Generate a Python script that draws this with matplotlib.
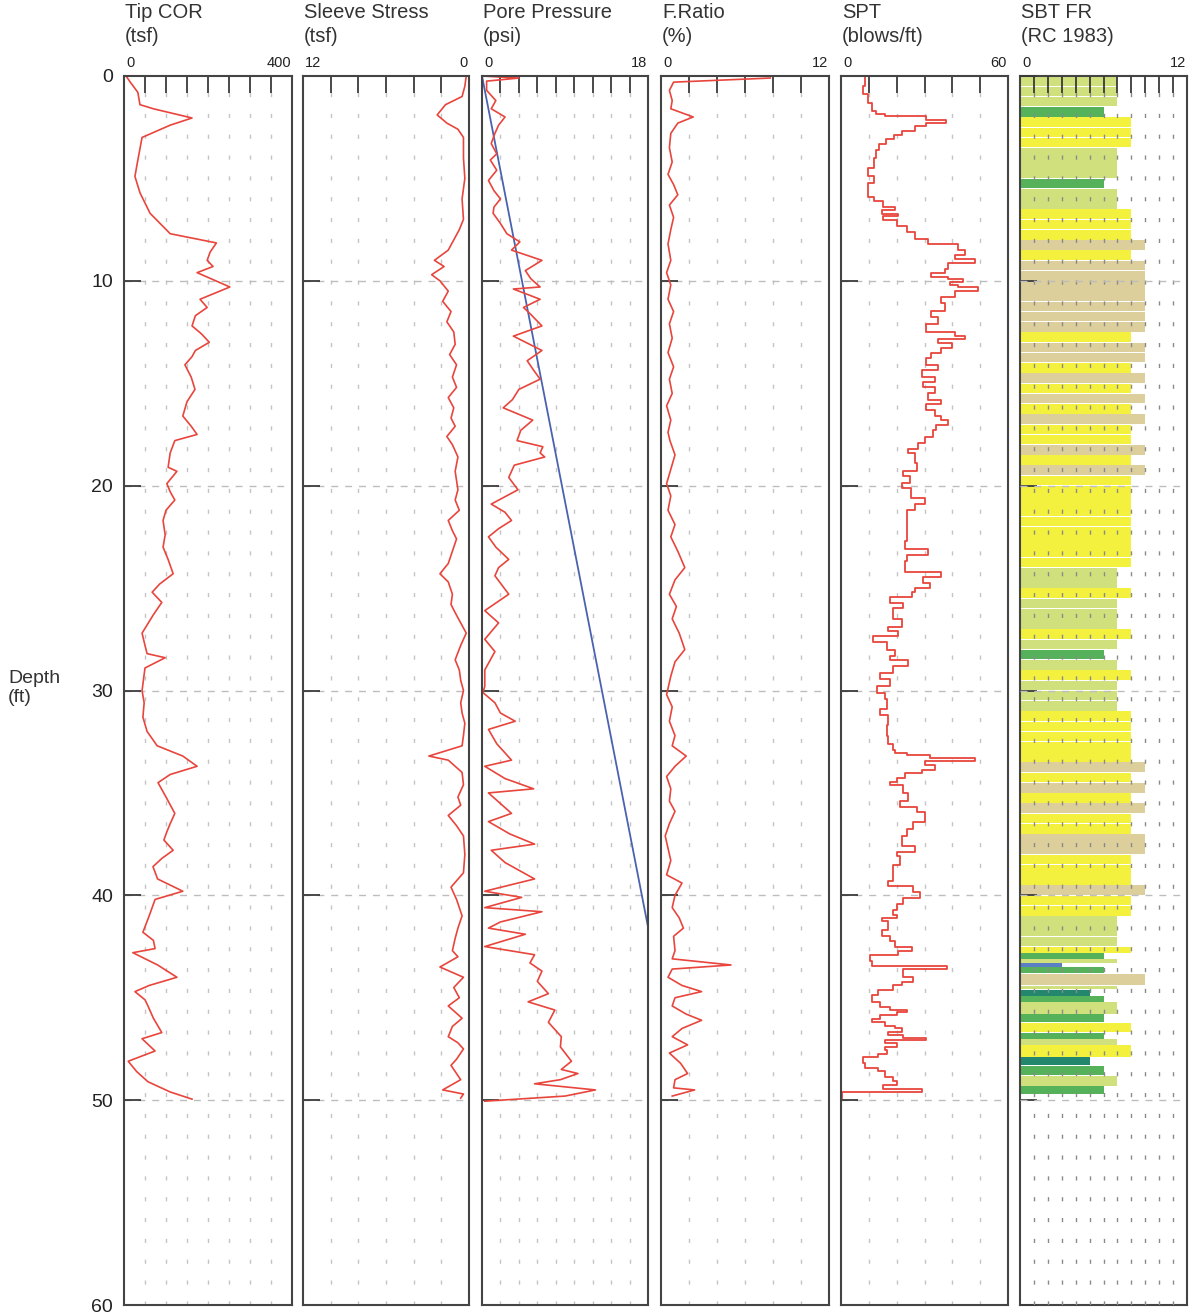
import matplotlib.pyplot as plt
import numpy as np

plt.rcParams['font.family'] = ['Liberation Sans', 'DejaVu Sans']

RED = '#e8453c'
BLUE = '#4a62b0'
DARK = '#3a3a3a'

# ---- data (depth in ft) ----
tip_depth = [0.0, 0.3, 0.8, 1.4, 1.6, 2.05, 2.4, 3.0, 4.1, 4.9, 5.7, 6.7, 7.7, 8.15, 8.6, 9.0, 9.3, 9.6,
             10.3, 10.9, 11.3, 11.7, 12.2, 12.6, 13.0, 13.4, 13.7, 14.1, 14.7, 15.3, 15.9, 16.6, 17.1,
             17.5, 17.8, 18.4, 19.1, 19.3, 19.9, 20.3, 20.7, 21.2, 21.7, 22.4, 23.0, 23.6, 24.3, 24.8,
             25.2, 25.7, 26.3, 27.2, 27.8, 28.2, 28.4, 28.9, 30.0, 30.6, 31.3, 32.0, 32.7, 33.2, 33.7,
             34.1, 34.5, 35.2, 36.0, 36.5, 36.9, 37.3, 37.8, 38.2, 38.6, 39.2, 39.8, 40.2, 41.0, 41.8,
             42.2, 42.6, 42.8, 43.4, 44.0, 44.4, 44.7, 45.1, 45.4, 46.0, 46.7, 47.0, 47.6, 48.1, 48.6,
             49.1, 49.6, 49.95]
tip_val = [5, 15, 33, 38, 70, 162, 110, 43, 33, 26, 38, 62, 110, 220, 205, 198, 212, 174,
           252, 181, 198, 170, 162, 185, 203, 170, 162, 145, 160, 169, 150, 140, 160,
           174, 121, 110, 105, 126, 102, 110, 121, 100, 93, 98, 93, 105, 117, 85,
           67, 90, 70, 43, 50, 55, 98, 50, 43, 48, 45, 55, 79, 140, 174,
           110, 81, 100, 121, 110, 102, 95, 117, 90, 69, 80, 140, 74, 60, 45,
           70, 74, 21, 80, 126, 60, 26, 50, 57, 70, 90, 43, 74, 10, 30,
           57, 110, 162]

sleeve_depth = [0.0, 0.5, 1.0, 1.4, 1.9, 2.3, 2.6, 3.0, 4.0, 5.0, 6.0, 7.0, 7.5, 8.0, 8.5, 9.0, 9.3, 9.7,
                10.0, 10.5, 11.0, 11.5, 12.0, 12.5, 13.1, 13.6, 14.1, 14.7, 15.2, 15.7, 16.2, 16.7, 17.1,
                17.6, 18.0, 18.6, 19.3, 20.2, 20.7, 21.2, 21.7, 22.2, 22.6, 23.2, 23.8, 24.3, 24.7, 25.3,
                25.8, 26.2, 26.7, 27.2, 27.8, 28.5, 29.0, 29.5, 30.0, 30.6, 31.1, 31.6, 32.2, 32.7, 33.2,
                33.4, 34.0, 34.6, 35.2, 35.6, 36.1, 36.6, 37.1, 38.0, 38.9, 39.6, 40.2, 40.6, 41.0, 41.6,
                42.1, 42.7, 43.0, 43.5, 44.0, 44.5, 45.0, 45.4, 46.0, 46.4, 46.9, 47.2, 47.5, 48.0, 48.3,
                48.7, 49.0, 49.5, 49.7, 49.9]
sleeve_val = [0.2, 0.3, 0.5, 1.7, 2.3, 1.6, 0.8, 0.4, 0.4, 0.3, 0.5, 0.4, 0.7, 1.1, 1.5, 2.5, 1.8, 2.7,
              2.1, 1.5, 1.9, 1.3, 1.6, 1.1, 1.0, 1.4, 0.9, 1.2, 0.9, 1.5, 1.1, 1.3, 1.0,
              1.6, 1.2, 0.8, 1.0, 0.8, 1.0, 0.7, 1.5, 1.2, 0.9, 1.2, 1.5, 2.1, 1.5, 1.2,
              1.3, 1.0, 0.6, 0.2, 0.6, 1.0, 0.7, 0.6, 0.4, 0.6, 0.5, 0.3, 0.4, 0.5, 2.9,
              1.5, 0.5, 0.4, 0.8, 0.6, 1.5, 0.9, 0.4, 0.3, 0.4, 1.3, 0.9, 0.7, 0.5, 0.8,
              1.0, 1.2, 0.8, 2.1, 0.4, 1.1, 0.7, 1.5, 0.5, 1.2, 1.5, 0.8, 0.4, 0.9, 1.3,
              0.9, 0.6, 1.9, 0.4, 0.6]

pore_depth = [0.0, 0.1, 0.25, 0.7, 1.2, 1.6, 2.0, 2.4, 2.8, 3.3, 3.8, 4.1, 4.6, 5.1, 5.6, 6.0, 6.4, 6.7,
              7.2, 7.7, 8.1, 8.5, 9.0, 9.5, 9.9, 10.3, 10.4, 10.9, 11.3, 11.6, 12.2, 12.7, 13.4, 13.9,
              14.3, 14.8, 15.3, 15.8, 16.2, 16.8, 17.3, 17.8, 18.1, 18.4, 18.6, 19.0, 19.6, 20.2, 20.9,
              21.3, 21.7, 22.1, 22.5, 23.0, 23.6, 24.0, 24.4, 25.3, 26.1, 26.7, 27.5, 28.1, 29.0, 29.8,
              30.1, 30.6, 31.1, 31.5, 31.9, 32.6, 33.4, 33.7, 34.3, 34.8, 35.0, 35.6, 36.0, 36.4, 37.0,
              37.5, 37.8, 38.4, 39.2, 39.8, 40.1, 40.6, 40.8, 41.3, 41.6, 41.9, 42.5, 42.9, 43.3, 43.7,
              44.2, 44.8, 45.2, 45.6, 46.2, 46.9, 47.4, 48.1, 48.5, 48.7, 49.0, 49.2, 49.5, 49.8, 50.05]
pore_val = [0.0, 4.0, 0.5, 0.5, 1.5, 1.0, 2.5, 1.8, 1.4, 1.0, 1.6, 0.9, 1.6, 0.7, 1.3, 2.0, 1.3, 1.2,
            2.0, 2.7, 4.1, 3.2, 6.5, 4.7, 5.3, 6.3, 3.4, 6.3, 4.5, 5.2, 6.5, 3.4, 6.5, 4.9,
            5.5, 6.3, 4.0, 3.3, 2.3, 5.5, 4.2, 3.8, 6.6, 6.3, 6.8, 3.5, 2.9, 3.9, 1.0,
            2.5, 3.2, 1.8, 0.7, 1.5, 2.9, 1.8, 1.4, 2.9, 0.3, 1.8, 0.3, 1.4, 0.3, 0.3,
            0.1, 1.4, 2.0, 3.6, 0.7, 1.6, 3.2, 0.3, 2.5, 5.6, 0.7, 2.2, 3.2, 0.7, 3.0,
            5.7, 1.0, 2.5, 5.7, 0.3, 4.3, 0.3, 6.5, 2.0, 0.7, 4.7, 0.3, 5.7, 5.2, 6.5,
            6.0, 7.2, 5.0, 7.9, 7.2, 8.6, 8.5, 9.7, 8.6, 10.4, 8.5, 5.7, 12.3, 9.0, 0.3]

# hydrostatic line (psi), from surface
hydro_depth = [0.0, 60.0]
hydro_val = [0.0, 26.0]

fr_depth = [0.1, 0.3, 0.7, 1.2, 1.6, 2.0, 2.3, 2.8, 3.5, 4.2, 4.8, 5.3, 5.8, 6.3, 6.9, 7.5, 8.2, 9.0, 9.6,
            10.2, 10.9, 11.5, 12.1, 12.8, 13.5, 14.2, 14.8, 15.5, 16.1, 16.8, 17.4, 17.8, 18.5, 19.2,
            19.9, 20.5, 21.2, 21.9, 22.5, 23.2, 24.0, 24.6, 25.3, 25.9, 26.5, 27.2, 28.0, 28.6, 29.3,
            30.2, 30.8, 31.5, 32.2, 32.7, 33.2, 33.7, 34.2, 34.8, 35.4, 35.9, 36.5, 37.1, 37.7, 38.3,
            39.0, 39.4, 40.0, 40.6, 41.1, 41.6, 42.0, 42.7, 43.1, 43.4, 43.6, 44.0, 44.4, 44.7, 45.0,
            45.4, 45.8, 46.1, 46.5, 46.9, 47.3, 47.7, 48.2, 48.7, 49.0, 49.4, 49.5, 49.8]
fr_val = [7.8, 0.9, 0.6, 0.8, 0.7, 2.3, 1.2, 0.7, 0.6, 0.8, 0.5, 0.9, 1.2, 0.6, 0.9, 0.7, 0.5, 0.7, 0.4,
          0.7, 0.5, 0.9, 0.6, 0.8, 0.5, 0.9, 0.6, 0.8, 0.4, 0.7, 0.5, 0.64, 1.0, 0.7,
          0.4, 0.7, 0.5, 1.0, 0.7, 1.2, 1.7, 1.0, 0.6, 1.1, 0.8, 1.3, 1.7, 1.0, 0.7,
          0.4, 0.8, 0.6, 1.0, 0.8, 1.8, 1.0, 0.4, 0.7, 0.6, 1.0, 0.6, 0.3, 0.5, 0.7,
          0.4, 1.5, 1.0, 0.8, 1.3, 1.6, 0.9, 1.0, 0.8, 5.0, 0.8, 0.5, 1.5, 2.9, 1.0,
          0.8, 1.8, 2.9, 1.5, 0.8, 1.9, 0.6, 1.4, 1.9, 1.0, 0.9, 2.4, 0.8]

# SPT: value for each interval starting at spt_top
spt_top = [0.0, 0.5, 0.9, 1.3, 1.7, 1.85, 1.95, 2.15, 2.3, 2.45, 2.7, 2.9, 3.1, 3.3, 3.6, 4.0, 4.5, 4.9,
           5.2, 5.9, 6.1, 6.4, 6.55, 6.75, 6.85, 7.05, 7.3, 7.6, 7.95, 8.2, 8.5, 8.75, 8.95, 9.15, 9.4,
           9.6, 9.8, 9.9, 10.05, 10.2, 10.3, 10.5, 10.8, 11.1, 11.45, 11.75, 12.1, 12.5, 12.7, 12.85,
           13.05, 13.3, 13.5, 13.75, 14.1, 14.35, 14.7, 14.95, 15.2, 15.5, 15.8, 16.0, 16.3, 16.6,
           16.8, 17.05, 17.3, 17.6, 17.9, 18.2, 18.4, 18.9, 19.3, 19.55, 19.85, 20.1, 20.6, 20.9,
           21.2, 22.0, 22.7, 23.1, 23.4, 23.7, 24.2, 24.45, 24.75, 25.0, 25.2, 25.45, 25.75, 25.95,
           26.5, 26.9, 27.1, 27.35, 27.65, 28.0, 28.3, 28.5, 28.8, 29.15, 29.45, 29.8, 30.1, 30.4,
           30.9, 31.2, 31.7, 32.2, 32.6, 32.9, 33.05, 33.15, 33.3, 33.45, 33.65, 33.9, 34.05, 34.25,
           34.45, 34.6, 35.0, 35.4, 35.7, 35.95, 36.4, 36.75, 37.1, 37.6, 37.9, 38.1, 38.5, 39.3,
           39.55, 39.85, 40.15, 40.4, 40.7, 40.95, 41.1, 41.25, 41.7, 42.0, 42.25, 42.5, 42.7, 42.9,
           43.2, 43.45, 43.6, 44.0, 44.25, 44.4, 44.6, 44.85, 45.2, 45.45, 45.6, 45.7, 45.85, 46.05,
           46.2, 46.4, 46.5, 46.65, 46.8, 46.95, 47.05, 47.2, 47.4, 47.55, 47.75, 47.9, 48.2, 48.45,
           48.6, 48.85, 49.05, 49.25, 49.45, 49.6]
spt_val = [8.6, 8.0, 9.8, 11, 12.4, 15.9, 30.6, 37.8, 30.6, 26.6, 22, 19, 16, 13.6, 12.4, 12, 9.8, 12,
           9.8, 12, 15, 19.5, 14.6, 20.6, 15, 20, 23.6, 26.6, 31.4, 42, 44.6, 40.8, 48, 38.5, 37.3,
           32.5, 38.5, 44, 39, 42, 49.3, 40.8, 36, 37.3, 32.5, 34.9, 30.7, 41, 44.6, 35,
           40, 36, 32.5, 30.7, 35, 29, 33.7, 29.5, 33.7, 31.4, 36, 30.7, 33.7, 36,
           38.5, 34.3, 33, 30, 27.8, 24.2, 26.6, 27.2, 22.4, 24.8, 21.8, 25, 30, 26.6,
           23.6, 23.6, 23, 31.4, 23.6, 23, 36, 29.5, 32, 26.6, 25.4, 17.6, 22.4, 18.8,
           21.8, 17, 20.6, 11.6, 16.4, 19.4, 17.6, 24.2, 18.8, 14, 17.6, 12.8, 15.8, 16.4,
           14, 17, 16.4, 17, 18.8, 19.4, 23.6, 32, 48, 30, 33.7, 29, 23, 20,
           17.6, 22.4, 24.2, 21.2, 27.2, 30, 26, 23.6, 21.8, 26.6, 20, 21.2, 18.8, 17,
           26, 28.4, 22.4, 20, 18.8, 20, 14.6, 17, 14.6, 17.6, 19.4, 25.4, 20.6, 10.4,
           11, 38, 22.4, 26, 21.8, 18.8, 13.4, 11, 14, 17.6, 23.6, 20, 14, 11,
           15.8, 19.4, 21.8, 17, 22.4, 30.7, 15.8, 20, 15.8, 16.4, 13.4, 8, 8.6, 13.4,
           15.8, 18.8, 20, 15.2, 29, 0.5]
spt_bottom = 49.9

# SBT (Robertson & Campanella 1983) zone for each interval starting at sbt_top
sbt_top = [0.0, 0.5, 1.0, 1.5, 2.0, 2.5, 3.0, 3.5, 4.0, 4.5, 5.0, 5.5, 6.0, 6.5, 7.0, 7.5, 8.0, 8.5,
           9.0, 9.5, 10.0, 10.5, 11.0, 11.5, 12.0, 12.5, 13.0, 13.5, 14.0, 14.5, 15.0, 15.5, 16.0,
           16.5, 17.0, 17.5, 18.0, 18.5, 19.0, 19.5, 20.0, 20.5, 21.0, 21.5, 22.0, 22.5, 23.0, 23.5,
           24.0, 24.5, 25.0, 25.5, 26.0, 26.5, 27.0, 27.5, 28.0, 28.5, 29.0, 29.5, 30.0, 30.5, 31.0,
           31.5, 32.0, 32.5, 33.0, 33.5, 34.0, 34.5, 35.0, 35.5, 36.0, 36.5, 37.0, 37.5, 38.0, 38.5,
           39.0, 39.5, 40.0, 40.5, 41.0, 41.5, 42.0, 42.5, 42.8, 43.1, 43.3, 43.5, 43.8, 44.4, 44.6,
           44.9, 45.2, 45.8, 46.2, 46.7, 47.0, 47.3, 47.9, 48.3, 48.8, 49.3]
sbt_zone = [7, 7, 7, 6, 8, 8, 8, 7, 7, 7, 6, 7, 7, 8, 8, 8, 9, 8,
            9, 9, 9, 9, 9, 9, 9, 8, 9, 9, 8, 9, 8, 9, 8,
            9, 8, 8, 9, 8, 9, 8, 8, 8, 8, 8, 8, 8, 8, 8,
            7, 7, 8, 7, 7, 7, 8, 7, 6, 7, 8, 7, 7, 7, 8,
            8, 8, 8, 8, 9, 8, 9, 8, 9, 8, 8, 9, 9, 8, 8,
            8, 9, 8, 8, 7, 7, 7, 8, 6, 7, 3, 6, 9, 7, 5,
            6, 7, 6, 8, 6, 7, 8, 5, 6, 7, 6]
sbt_bottom = 49.7
sbt_colors = {3: '#5b7fc4', 5: '#23876e', 6: '#55b25a', 7: '#cfe07c', 8: '#f3f03e', 9: '#dccf9c'}

W, H = 1196, 1314
fig = plt.figure(figsize=(W / 100, H / 100), dpi=100)

panels = [
    ('Tip COR\n(tsf)', 124, 292, (0, 400), 50, ('0', '400')),
    ('Sleeve Stress\n(tsf)', 303, 469, (12, 0), 2, ('12', '0')),
    ('Pore Pressure\n(psi)', 482, 648, (0, 18), 2, ('0', '18')),
    ('F.Ratio\n(%)', 661, 829, (0, 12), 2, ('0', '12')),
    ('SPT\n(blows/ft)', 841, 1008, (0, 60), 10, ('0', '60')),
    ('SBT FR\n(RC 1983)', 1020, 1187, (0, 12), 1, ('0', '12')),
]
top_px, bot_px = 76, 1305

axes = []
for i, (title, x0, x1, lim, step, lims) in enumerate(panels):
    ax = fig.add_axes([x0 / W, (H - bot_px) / H, (x1 - x0) / W, (bot_px - top_px) / H])
    ax.set_xlim(*lim)
    ax.set_ylim(60, 0)
    lo, hi = min(lim), max(lim)
    ticks = np.arange(lo + step, hi, step)
    ax.set_xticks(ticks)
    ax.xaxis.tick_top()
    ax.tick_params(axis='x', direction='in', length=12, width=1.3, color=DARK,
                   labeltop=False, labelbottom=False)
    ax.set_yticks(np.arange(0, 61, 10))
    ax.tick_params(axis='y', direction='in', length=12, width=1.3, color=DARK,
                   labelsize=14, pad=8, labelcolor='#222222', labelleft=(i == 0))
    for s in ax.spines.values():
        s.set_color('#444444')
        s.set_linewidth(1.5)
    z = 3 if i == 5 else 0
    for t in ticks:
        ax.axvline(t, color='#8a8a8a' if i == 5 else '#c4c4c4', lw=1, ls=(0, (3, 12)), zorder=z)
    for d in range(10, 60, 10):
        ax.axhline(d, color='#bdbdbd', lw=1, ls=(0, (5, 5)), zorder=z)
    fig.text((x0 + 1) / W, 1 - 3 / H, title, ha='left', va='top', fontsize=14.5,
             color='#333333', linespacing=1.3)
    fig.text((x0 + 2) / W, 1 - 70 / H, lims[0], ha='left', va='bottom', fontsize=10.5, color='#222222')
    fig.text((x1 - 1) / W, 1 - 70 / H, lims[1], ha='right', va='bottom', fontsize=10.5, color='#222222')
    axes.append(ax)

ax_tip, ax_sl, ax_pp, ax_fr, ax_spt, ax_sbt = axes

ax_tip.plot(tip_val, tip_depth, color=RED, lw=1.2)
ax_sl.plot(sleeve_val, sleeve_depth, color=RED, lw=1.2)
ax_pp.plot(hydro_val, hydro_depth, color=BLUE, lw=1.3)
ax_pp.plot(pore_val, pore_depth, color=RED, lw=1.2)
ax_fr.plot(fr_val, fr_depth, color=RED, lw=1.2)

# SPT drawn as steps over depth intervals
spt_bot = spt_top[1:] + [spt_bottom]
spt_y = np.column_stack([spt_top, spt_bot]).ravel()
spt_x = np.repeat(spt_val, 2)
ax_spt.plot(spt_x, spt_y, color=RED, lw=1.3)

# SBT bars
sbt_bot = sbt_top[1:] + [sbt_bottom]
heights = np.array(sbt_bot) - np.array(sbt_top)
ax_sbt.set_axisbelow(False)
ax_sbt.barh(np.array(sbt_top) + heights / 2, sbt_zone, height=heights * 0.94,
            color=[sbt_colors[z] for z in sbt_zone], left=0, zorder=2)

fig.text(8 / W, 1 - 688 / H, 'Depth\n(ft)', ha='left', va='center', fontsize=14,
         color='#333333', linespacing=1.1)

fig.savefig('out.png', dpi=100)
